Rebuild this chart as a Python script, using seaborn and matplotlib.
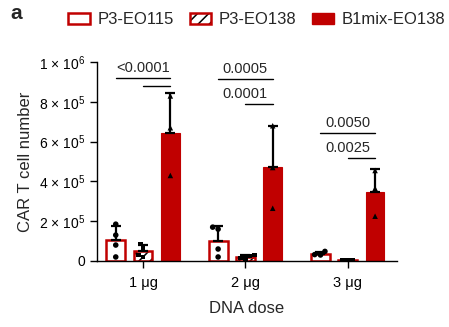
import numpy as np
import pandas as pd
import matplotlib
matplotlib.use("Agg")
import matplotlib.pyplot as plt
from matplotlib.patches import Patch, Rectangle
from matplotlib.legend_handler import HandlerTuple
import seaborn as sns

# ---------------- data ----------------
doses = ["1 μg", "2 μg", "3 μg"]
constructs = ["P3-EO115", "P3-EO138", "B1mix-EO138"]

# individual replicate values per dose (1, 2, 3 μg)
p3_eo115 = [[0.185e6, 0.13e6, 0.08e6, 0.02e6],
            [0.17e6, 0.16e6, 0.06e6, 0.02e6],
            [0.048e6, 0.032e6, 0.030e6]]
p3_eo138 = [[0.085e6, 0.065e6, 0.03e6, 0.02e6],
            [0.03e6, 0.025e6, 0.015e6, 0.01e6],
            [0.003e6, 0.002e6, 0.003e6]]
b1mix_eo138 = [[0.83e6, 0.67e6, 0.43e6],
               [0.68e6, 0.47e6, 0.265e6],
               [0.455e6, 0.365e6, 0.225e6]]

# p-value labels and the comparisons they belong to
p_labels = ["<0.0001", "", "0.0005", "0.0001", "0.0050", "0.0025"]
p_dose_index = [0, 0, 1, 1, 2, 2]
p_from = [0, 1, 0, 1, 0, 1]
p_to = [2, 2, 2, 2, 2, 2]

yticks = [0, 2e5, 4e5, 6e5, 8e5, 1e6]
ytick_labels = ["0", "2 × 10$^{5}$", "4 × 10$^{5}$", "6 × 10$^{5}$", "8 × 10$^{5}$", "1 × 10$^{6}$"]

# ---------------- layout / style ----------------
bracket_y = [0.92e6, 0.88e6, 0.915e6, 0.79e6, 0.643e6, 0.518e6]
RED = "#c00000"
markers = ["o", "s", "^"]
marker_sizes = [4, 3.5, 4]

rows = []
for c, series in zip(constructs, [p3_eo115, p3_eo138, b1mix_eo138]):
    for d, vals in zip(doses, series):
        for v in vals:
            rows.append({"dose": d, "construct": c, "value": v})
df = pd.DataFrame(rows)

sns.set_style("ticks")
plt.rcParams["font.family"] = ["Liberation Sans", "DejaVu Sans"]
plt.rcParams["mathtext.default"] = "regular"
plt.rcParams["hatch.linewidth"] = 1.1

fig = plt.figure(figsize=(4.49, 3.27), dpi=100)
ax = fig.add_axes([0.216, 0.202, 0.668, 0.608])

sns.barplot(data=df, x="dose", y="value", hue="construct", order=doses,
            hue_order=constructs, errorbar=None, width=0.8, gap=0.31,
            palette=["white", "white", RED], saturation=1, legend=False, ax=ax)

bars = sorted(ax.patches, key=lambda p: p.get_x())
centers = {}
for i, p in enumerate(bars):
    cat, h = i // 3, i % 3
    cx = p.get_x() + p.get_width() / 2
    centers[(cat, h)] = cx
    if h == 0:
        p.set_facecolor("white"); p.set_edgecolor(RED); p.set_linewidth(1.8)
    elif h == 1:
        p.set_facecolor("white"); p.set_edgecolor("black"); p.set_linewidth(0)
        p.set_hatch("///")
        ax.add_patch(Rectangle((p.get_x(), p.get_y()), p.get_width(), p.get_height(),
                               fill=False, edgecolor=RED, linewidth=1.8, zorder=p.get_zorder()))
    else:
        p.set_facecolor(RED); p.set_edgecolor(RED); p.set_linewidth(0.8)
    vals = df[(df.dose == doses[cat]) & (df.construct == constructs[h])]["value"]
    m, sd = vals.mean(), vals.std()
    ax.errorbar(cx, m, yerr=[[0], [sd]], fmt="none", ecolor="black",
                elinewidth=1.6, capsize=3.5, capthick=1.6, zorder=4)

for h, c in enumerate(constructs):
    sub = df[df.construct == c]
    sns.swarmplot(data=sub, x="dose", y="value", hue="construct", order=doses,
                  hue_order=constructs, dodge=True,
                  palette={k: "black" for k in constructs}, marker=markers[h],
                  size=marker_sizes[h], linewidth=0, legend=False, ax=ax, zorder=5)

# significance brackets
for lab, d, a, b, y in zip(p_labels, p_dose_index, p_from, p_to, bracket_y):
    x0, x1 = centers[(d, a)], centers[(d, b)]
    ax.plot([x0, x1], [y, y], color="black", lw=1.0, clip_on=False)
    if lab:
        ax.annotate(lab, xy=(d, y), xytext=(0, 2), textcoords="offset points",
                    ha="center", va="bottom", fontsize=10.5, annotation_clip=False)

ax.set_ylim(0, 1e6)
ax.set_xlim(-0.45, 2.48)
ax.set_yticks(yticks)
ax.set_yticklabels(ytick_labels, fontsize=10)
ax.tick_params(axis="x", labelsize=10.5, length=5, width=1, colors="black", pad=6)
ax.tick_params(axis="y", length=5, width=1, colors="black")
for s in ["top", "right"]:
    ax.spines[s].set_visible(False)
for s in ["left", "bottom"]:
    ax.spines[s].set_linewidth(1)
    ax.spines[s].set_color("black")
ax.set_xlabel("DNA dose", fontsize=12, labelpad=8)
ax.set_ylabel("CAR T cell number", fontsize=12, labelpad=4)

h0 = Patch(facecolor="white", edgecolor=RED, linewidth=1.8)
h1a = Patch(facecolor="white", edgecolor="black", linewidth=0, hatch="///")
h1b = Patch(facecolor="none", edgecolor=RED, linewidth=1.8)
h2 = Patch(facecolor=RED, edgecolor=RED, linewidth=1)
fig.legend([h0, (h1a, h1b), h2], constructs, loc="center",
           bbox_to_anchor=(0.572, 0.94), ncol=3, frameon=False, fontsize=12,
           handlelength=1.3, handleheight=0.6, handletextpad=0.45,
           columnspacing=0.95, handler_map={tuple: HandlerTuple(ndivide=1, pad=0)})

fig.text(0.022, 0.958, "a", fontsize=15, fontweight="bold", va="center", ha="left")

fig.savefig("out.png", dpi=100)
